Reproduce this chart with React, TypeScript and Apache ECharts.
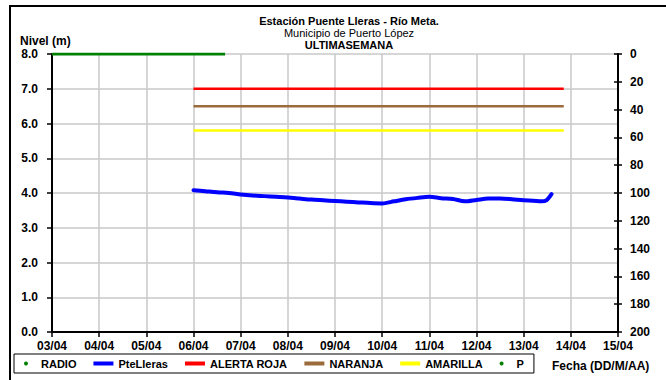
import React, { useEffect, useRef } from "react";
import * as echarts from "echarts";

const tickLabels = ["03/04", "04/04", "05/04", "06/04", "07/04", "08/04", "09/04", "10/04", "11/04", "12/04", "13/04", "14/04", "15/04"];

// x positions are days counted from 03/04 00:00
const radioDays = [0, 3.67];
const radioValues = [8.0, 8.0];

const levelDays = [3.0, 3.25, 3.5, 3.75, 4.0, 4.25, 4.5, 4.75, 5.0, 5.25, 5.5, 5.75, 6.0, 6.25, 6.5, 6.75, 7.0, 7.25, 7.5, 7.75, 8.0, 8.25, 8.5, 8.75, 9.0, 9.25, 9.5, 9.75, 10.0, 10.2, 10.38, 10.48, 10.59];
const levelValues = [4.08, 4.05, 4.02, 4.0, 3.96, 3.93, 3.91, 3.89, 3.87, 3.84, 3.81, 3.79, 3.77, 3.75, 3.73, 3.71, 3.7, 3.76, 3.82, 3.86, 3.89, 3.85, 3.83, 3.76, 3.8, 3.84, 3.84, 3.82, 3.79, 3.78, 3.76, 3.79, 3.97];

const thresholdDays = [3.0, 10.85];
const alertaRoja = [7.0, 7.0];
const naranja = [6.5, 6.5];
const amarilla = [5.8, 5.8];

const precipDays: number[] = [];
const precipValues: number[] = [];

const zip = (xs: number[], ys: number[]) => xs.map((x, i) => [x, ys[i]]);

const FONT = "'Liberation Sans', Arial, sans-serif";

export default function App() {
  const ref = useRef<HTMLDivElement>(null);
  useEffect(() => {
    if (!ref.current) return;
    const chart = echarts.init(ref.current, undefined, { renderer: "svg" });
    const grid = "#c8c8c8";
    chart.setOption({
      animation: false,
      backgroundColor: "#fff",
      textStyle: { fontFamily: FONT },
      grid: { left: 52, right: 48, top: 54, bottom: 48 },
      legend: {
        left: 14,
        top: 354,
        padding: [4, 10],
        borderColor: "#000",
        borderWidth: 1,
        itemWidth: 20,
        itemHeight: 4,
        itemGap: 17,
        textStyle: { fontFamily: FONT, fontWeight: "bold", fontSize: 11, color: "#000" },
        data: [
          { name: "RADIO", icon: "circle" },
          { name: "PteLleras", icon: "rect" },
          { name: "ALERTA ROJA", icon: "rect" },
          { name: "NARANJA", icon: "rect" },
          { name: "AMARILLA", icon: "rect" },
          { name: "P", icon: "circle" },
        ],
      },
      xAxis: {
        type: "value",
        min: 0,
        max: 12,
        interval: 1,
        axisLine: { show: true, lineStyle: { color: "#000", width: 2 } },
        axisTick: { show: true, length: 5, lineStyle: { color: "#000", width: 1.5 } },
        axisLabel: {
          margin: 8,
          fontWeight: "bold",
          fontSize: 12,
          color: "#000",
          fontFamily: FONT,
          formatter: (v: number) => tickLabels[Math.round(v)] ?? "",
        },
        splitLine: { show: true, lineStyle: { color: grid, width: 1.5 } },
      },
      yAxis: [
        {
          type: "value",
          min: 0,
          max: 8,
          interval: 1,
          position: "left",
          axisLine: { show: true, lineStyle: { color: "#000", width: 2 } },
          axisTick: { show: true, length: 5, lineStyle: { color: "#000", width: 1.5 } },
          axisLabel: {
            margin: 14,
            fontWeight: "bold",
            fontSize: 12,
            color: "#000",
            fontFamily: FONT,
            formatter: (v: number) => v.toFixed(1),
          },
          splitLine: { show: true, lineStyle: { color: grid, width: 1.5 } },
        },
        {
          type: "value",
          min: 0,
          max: 200,
          interval: 20,
          inverse: true,
          position: "right",
          axisLine: { show: true, lineStyle: { color: "#000", width: 2 } },
          axisTick: { show: true, length: 4, lineStyle: { color: "#000", width: 1.5 } },
          axisLabel: { margin: 12, fontWeight: "bold", fontSize: 12, color: "#000", fontFamily: FONT },
          splitLine: { show: false },
        },
        {
          type: "value",
          min: 0,
          max: 200,
          interval: 20,
          inverse: true,
          position: "right",
          axisLine: { show: false },
          axisTick: { show: true, inside: true, length: 4, lineStyle: { color: "#000", width: 1.5 } },
          axisLabel: { show: false },
          splitLine: { show: false },
        },
      ],
      series: [
        {
          name: "RADIO",
          type: "line",
          data: zip(radioDays, radioValues),
          symbol: "none",
          color: "#008000",
          lineStyle: { color: "#008000", width: 3 },
          z: 5,
        },
        {
          name: "PteLleras",
          type: "line",
          data: zip(levelDays, levelValues),
          symbol: "none",
          smooth: 0.3,
          color: "#0000ff",
          lineStyle: { color: "#0000ff", width: 4, cap: "round", join: "round" },
          z: 4,
        },
        {
          name: "ALERTA ROJA",
          type: "line",
          data: zip(thresholdDays, alertaRoja),
          symbol: "none",
          color: "#ff0000",
          lineStyle: { color: "#ff0000", width: 2.5 },
        },
        {
          name: "NARANJA",
          type: "line",
          data: zip(thresholdDays, naranja),
          symbol: "none",
          color: "#9c6b3c",
          lineStyle: { color: "#9c6b3c", width: 2.5 },
        },
        {
          name: "AMARILLA",
          type: "line",
          data: zip(thresholdDays, amarilla),
          symbol: "none",
          color: "#ffff00",
          lineStyle: { color: "#ffff00", width: 2.5 },
        },
        {
          name: "P",
          type: "line",
          yAxisIndex: 1,
          data: zip(precipDays, precipValues),
          symbol: "circle",
          color: "#008000",
        },
      ],
      graphic: [
        {
          type: "rect",
          shape: { x: 10, y: 6, width: 720, height: 420 },
          style: { fill: "none", stroke: "#000", lineWidth: 2 },
          silent: true,
          z: -1,
        },
        {
          type: "text",
          x: 349,
          y: 21,
          style: { text: "Estación Puente Lleras - Río Meta.", font: `bold 11px ${FONT}`, fill: "#000", align: "center", verticalAlign: "middle" },
        },
        {
          type: "text",
          x: 349,
          y: 33,
          style: { text: "Municipio de Puerto López", font: `11px ${FONT}`, fill: "#000", align: "center", verticalAlign: "middle" },
        },
        {
          type: "text",
          x: 349,
          y: 45,
          style: { text: "ULTIMASEMANA", font: `bold 11px ${FONT}`, fill: "#000", align: "center", verticalAlign: "middle" },
        },
        {
          type: "text",
          x: 20,
          y: 41,
          style: { text: "Nivel (m)", font: `bold 12px ${FONT}`, fill: "#000", align: "left", verticalAlign: "middle" },
        },
        {
          type: "text",
          x: 552,
          y: 366,
          style: { text: "Fecha (DD/M/AA)", font: `bold 12px ${FONT}`, fill: "#000", align: "left", verticalAlign: "middle" },
        },
      ],
    });
    return () => chart.dispose();
  }, []);
  return (
    <div
      ref={ref}
      style={{ position: "absolute", left: 0, top: 0, width: 666, height: 380 }}
    />
  );
}
